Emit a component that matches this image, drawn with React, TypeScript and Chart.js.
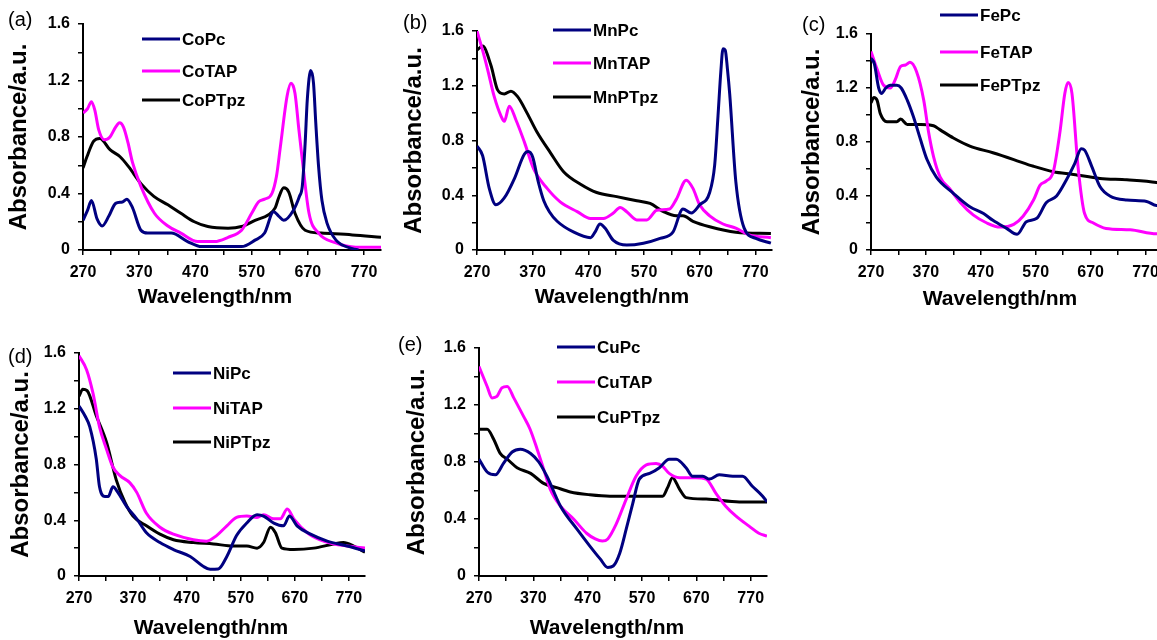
import React, { useEffect, useRef } from "react";
import { Chart, registerables } from "chart.js";

Chart.register(...registerables);

// ---------------- axes ----------------
const X_MIN = 270;
const X_MAX = 800;
const Y_MIN = 0;
const Y_MAX = 1.6;
const X_TICKS = [270, 320, 370, 420, 470, 520, 570, 620, 670, 720, 770];
const X_TICK_LABELS = ["270", "", "370", "", "470", "", "570", "", "670", "", "770"];
const Y_TICKS = [0, 0.2, 0.4, 0.6, 0.8, 1.0, 1.2, 1.4, 1.6];
const Y_TICK_LABELS = ["0", "", "0.4", "", "0.8", "", "1.2", "", "1.6"];
const X_TITLE = "Wavelength/nm";
const Y_TITLE = "Absorbance/a.u.";
const SERIES_COLORS = ["#000080", "#FF00FF", "#000000"];

// ---------------- (a) Co ----------------
const CoPc_wl = [270, 278, 285, 295, 304, 316, 328, 340, 348, 358, 373, 385, 427, 456, 481, 552, 576, 593, 609, 618, 627, 644, 655, 660, 665, 669, 675, 680, 684, 689, 695, 704, 720, 749, 760];
const CoPc_abs = [0.21, 0.28, 0.35, 0.22, 0.17, 0.24, 0.33, 0.34, 0.36, 0.3, 0.14, 0.12, 0.12, 0.06, 0.024, 0.024, 0.07, 0.12, 0.27, 0.24, 0.21, 0.28, 0.38, 0.45, 0.75, 1.07, 1.27, 1.18, 0.9, 0.59, 0.35, 0.19, 0.07, 0.01, 0.0];
const CoTAP_wl = [270, 278, 285, 291, 298, 308, 318, 328, 335, 342, 350, 358, 373, 397, 421, 444, 474, 504, 528, 552, 570, 582, 593, 606, 614, 621, 633, 640, 647, 654, 660, 672, 689, 720, 755, 800];
const CoTAP_abs = [0.97, 1.0, 1.05, 0.99, 0.85, 0.78, 0.8, 0.87, 0.9, 0.87, 0.76, 0.62, 0.45, 0.26, 0.17, 0.12, 0.06, 0.06, 0.09, 0.14, 0.26, 0.34, 0.36, 0.4, 0.52, 0.73, 1.09, 1.18, 1.11, 0.85, 0.64, 0.26, 0.12, 0.05, 0.02, 0.02];
const CoPTpz_wl = [270, 277, 289, 300, 318, 336, 351, 373, 396, 421, 444, 468, 492, 528, 552, 576, 600, 612, 618, 627, 636, 647, 665, 694, 749, 800];
const CoPTpz_abs = [0.58, 0.66, 0.77, 0.79, 0.71, 0.66, 0.59, 0.47, 0.38, 0.32, 0.26, 0.2, 0.166, 0.154, 0.166, 0.21, 0.25, 0.3, 0.37, 0.44, 0.41, 0.26, 0.14, 0.12, 0.107, 0.09];

// ---------------- (b) Mn ----------------
const MnPc_wl = [270, 280, 292, 304, 319, 337, 355, 362, 370, 380, 390, 400, 414, 444, 474, 482, 491, 500, 515, 539, 569, 599, 622, 640, 655, 670, 688, 697, 703, 708, 712, 716, 720, 724, 735, 750, 771, 798];
const MnPc_abs = [0.76, 0.69, 0.45, 0.33, 0.38, 0.52, 0.7, 0.72, 0.68, 0.5, 0.36, 0.28, 0.21, 0.13, 0.09, 0.13, 0.19, 0.16, 0.07, 0.036, 0.05, 0.085, 0.13, 0.3, 0.27, 0.33, 0.42, 0.62, 0.98, 1.3, 1.47, 1.46, 1.32, 1.14, 0.5, 0.16, 0.085, 0.05];
const MnTAP_wl = [270, 280, 289, 301, 313, 319, 328, 340, 355, 372, 396, 420, 450, 474, 497, 515, 527, 539, 557, 575, 593, 616, 628, 646, 658, 670, 688, 712, 735, 759, 798];
const MnTAP_abs = [1.6, 1.46, 1.32, 1.12, 0.98, 0.94, 1.05, 0.95, 0.79, 0.59, 0.45, 0.35, 0.28, 0.23, 0.23, 0.27, 0.31, 0.28, 0.22, 0.22, 0.29, 0.3, 0.37, 0.51, 0.45, 0.33, 0.25, 0.19, 0.16, 0.11, 0.09];
const MnPTpz_wl = [270, 280, 295, 307, 319, 331, 343, 360, 378, 402, 426, 456, 485, 521, 557, 581, 605, 628, 640, 658, 688, 735, 798];
const MnPTpz_abs = [1.46, 1.49, 1.35, 1.17, 1.14, 1.16, 1.12, 1.0, 0.86, 0.71, 0.57, 0.48, 0.42, 0.39, 0.36, 0.34, 0.28, 0.25, 0.25, 0.21, 0.17, 0.13, 0.12];

// ---------------- (c) Fe ----------------
const FePc_wl = [270, 276, 284, 289, 297, 305, 317, 325, 336, 347, 360, 372, 389, 420, 450, 475, 492, 517, 536, 553, 572, 589, 608, 626, 641, 653, 659, 672, 687, 705, 736, 772, 790, 800];
const FePc_abs = [1.42, 1.38, 1.2, 1.16, 1.2, 1.22, 1.22, 1.2, 1.11, 0.99, 0.82, 0.67, 0.54, 0.42, 0.32, 0.27, 0.22, 0.16, 0.116, 0.21, 0.235, 0.35, 0.4, 0.52, 0.64, 0.75, 0.74, 0.62, 0.47, 0.4, 0.37, 0.36, 0.33, 0.33];
const FeTAP_wl = [270, 281, 293, 305, 314, 324, 333, 341, 353, 366, 375, 384, 396, 414, 433, 456, 481, 505, 530, 547, 566, 578, 589, 602, 614, 623, 629, 636, 647, 659, 675, 698, 742, 790, 800];
const FeTAP_abs = [1.47, 1.34, 1.22, 1.2, 1.26, 1.36, 1.37, 1.39, 1.32, 1.11, 0.87, 0.69, 0.54, 0.45, 0.35, 0.26, 0.2, 0.17, 0.19, 0.25, 0.37, 0.48, 0.51, 0.58, 0.87, 1.16, 1.24, 1.16, 0.62, 0.27, 0.2, 0.16, 0.15, 0.12, 0.12];
const FePTpz_wl = [270, 275, 281, 287, 299, 317, 324, 336, 360, 384, 396, 420, 450, 492, 530, 566, 602, 639, 687, 736, 790, 800];
const FePTpz_abs = [1.09, 1.13, 1.11, 1.01, 0.95, 0.95, 0.97, 0.93, 0.93, 0.92, 0.89, 0.83, 0.77, 0.72, 0.67, 0.62, 0.58, 0.56, 0.53, 0.52, 0.5, 0.49];

// ---------------- (d) Ni ----------------
const NiPc_wl = [270, 281, 290, 302, 308, 318, 324, 333, 342, 358, 377, 395, 420, 445, 476, 500, 513, 528, 544, 562, 581, 600, 612, 631, 649, 660, 674, 699, 730, 767, 800];
const NiPc_abs = [1.22, 1.15, 1.07, 0.84, 0.64, 0.57, 0.57, 0.64, 0.6, 0.5, 0.41, 0.31, 0.24, 0.19, 0.14, 0.07, 0.048, 0.05, 0.14, 0.29, 0.38, 0.44, 0.43, 0.38, 0.36, 0.43, 0.36, 0.3, 0.25, 0.215, 0.18];
const NiTAP_wl = [270, 284, 296, 308, 321, 333, 346, 364, 377, 395, 420, 445, 482, 506, 525, 544, 562, 581, 600, 612, 631, 643, 656, 668, 693, 717, 742, 767, 800];
const NiTAP_abs = [1.58, 1.48, 1.31, 1.07, 0.91, 0.78, 0.72, 0.67, 0.6, 0.45, 0.35, 0.3, 0.26, 0.25, 0.29, 0.36, 0.42, 0.43, 0.42, 0.44, 0.41, 0.41, 0.48, 0.41, 0.31, 0.26, 0.23, 0.215, 0.2];
const NiPTpz_wl = [270, 277, 285, 302, 321, 339, 355, 370, 395, 420, 445, 482, 519, 556, 581, 600, 612, 625, 634, 646, 668, 705, 742, 760, 779, 800];
const NiPTpz_abs = [1.29, 1.34, 1.33, 1.15, 0.96, 0.69, 0.53, 0.43, 0.36, 0.3, 0.26, 0.24, 0.23, 0.215, 0.215, 0.2, 0.24, 0.35, 0.31, 0.2, 0.19, 0.2, 0.23, 0.24, 0.215, 0.17];

// ---------------- (e) Cu ----------------
const CuPc_wl = [270, 285, 300, 315, 331, 346, 365, 380, 395, 420, 450, 474, 493, 507, 517, 529, 541, 553, 565, 584, 602, 620, 633, 651, 663, 682, 694, 712, 737, 755, 773, 792, 800];
const CuPc_abs = [0.82, 0.73, 0.71, 0.79, 0.87, 0.89, 0.86, 0.8, 0.7, 0.49, 0.33, 0.21, 0.12, 0.06, 0.07, 0.16, 0.33, 0.51, 0.68, 0.72, 0.76, 0.82, 0.82, 0.76, 0.7, 0.7, 0.68, 0.71, 0.7, 0.7, 0.63, 0.56, 0.52];
const CuTAP_wl = [270, 285, 294, 303, 312, 322, 334, 352, 364, 377, 389, 401, 420, 444, 468, 484, 497, 507, 522, 541, 559, 578, 596, 608, 620, 639, 669, 688, 706, 724, 743, 767, 785, 800];
const CuTAP_abs = [1.47, 1.33, 1.25, 1.26, 1.32, 1.33, 1.25, 1.12, 1.03, 0.89, 0.75, 0.61, 0.49, 0.4, 0.3, 0.26, 0.245, 0.26, 0.36, 0.54, 0.7, 0.78, 0.79, 0.77, 0.72, 0.69, 0.69, 0.68, 0.58, 0.49, 0.42, 0.35, 0.3, 0.28];
const CuPTpz_wl = [270, 285, 297, 309, 322, 340, 365, 389, 413, 438, 474, 511, 559, 608, 617, 626, 639, 651, 688, 749, 800];
const CuPTpz_abs = [1.03, 1.03, 0.96, 0.86, 0.82, 0.76, 0.72, 0.65, 0.62, 0.59, 0.57, 0.56, 0.56, 0.56, 0.62, 0.69, 0.61, 0.55, 0.54, 0.52, 0.52];

// ---------------- panel definitions ----------------
type Panel = {
  letter: string;
  names: string[];
  wl: number[][];
  abs: number[][];
  box: { left: number; top: number; width: number; height: number };
  yAxisW: number;
  xAxisH: number;
  padTop: number;
  padRight: number;
  legendX: number;
  legendY: number[];
  letterX: number;
  letterY: number;
  xTitleX: number;
  xTitleY: number;
};

const PANELS: Panel[] = [
  {
    letter: "(a)", names: ["CoPc", "CoTAP", "CoPTpz"],
    wl: [CoPc_wl, CoTAP_wl, CoPTpz_wl], abs: [CoPc_abs, CoTAP_abs, CoPTpz_abs],
    box: { left: 0, top: 0, width: 391, height: 310 }, yAxisW: 83, xAxisH: 60, padTop: 24, padRight: 10,
    legendX: 142, legendY: [39, 71, 100], letterX: 8, letterY: 20, xTitleX: 215, xTitleY: 297,
  },
  {
    letter: "(b)", names: ["MnPc", "MnTAP", "MnPTpz"],
    wl: [MnPc_wl, MnTAP_wl, MnPTpz_wl], abs: [MnPc_abs, MnTAP_abs, MnPTpz_abs],
    box: { left: 395, top: 0, width: 387, height: 310 }, yAxisW: 82, xAxisH: 60, padTop: 31, padRight: 10,
    legendX: 553, legendY: [30, 63, 97], letterX: 403, letterY: 23, xTitleX: 612, xTitleY: 297,
  },
  {
    letter: "(c)", names: ["FePc", "FeTAP", "FePTpz"],
    wl: [FePc_wl, FeTAP_wl, FePTpz_wl], abs: [FePc_abs, FeTAP_abs, FePTpz_abs],
    box: { left: 793, top: 0, width: 379, height: 310 }, yAxisW: 78, xAxisH: 60, padTop: 34, padRight: 10,
    legendX: 940, legendY: [15, 52, 85], letterX: 802, letterY: 25, xTitleX: 1000, xTitleY: 299,
  },
  {
    letter: "(d)", names: ["NiPc", "NiTAP", "NiPTpz"],
    wl: [NiPc_wl, NiTAP_wl, NiPTpz_wl], abs: [NiPc_abs, NiTAP_abs, NiPTpz_abs],
    box: { left: 2, top: 325, width: 373, height: 315 }, yAxisW: 77, xAxisH: 64, padTop: 28, padRight: 10,
    legendX: 173, legendY: [373, 408, 442], letterX: 8, letterY: 357, xTitleX: 211, xTitleY: 628,
  },
  {
    letter: "(e)", names: ["CuPc", "CuTAP", "CuPTpz"],
    wl: [CuPc_wl, CuTAP_wl, CuPTpz_wl], abs: [CuPc_abs, CuTAP_abs, CuPTpz_abs],
    box: { left: 398, top: 325, width: 379, height: 315 }, yAxisW: 81, xAxisH: 64, padTop: 23, padRight: 10,
    legendX: 557, legendY: [347, 382, 417], letterX: 398, letterY: 345, xTitleX: 607, xTitleY: 628,
  },
];

const FONT = '"Liberation Sans", Arial, Helvetica, sans-serif';

function PanelChart({ cfg }: { cfg: Panel }) {
  const ref = useRef<HTMLCanvasElement>(null);
  useEffect(() => {
    const ox = cfg.box.left;
    const oy = cfg.box.top;
    const overlay = {
      id: "overlay",
      afterDraw(chart: any) {
        const ctx = chart.ctx as CanvasRenderingContext2D;
        ctx.save();
        ctx.fillStyle = "#000";
        ctx.textBaseline = "middle";
        ctx.textAlign = "left";
        ctx.font = `20px ${FONT}`;
        ctx.fillText(cfg.letter, cfg.letterX - ox, cfg.letterY - oy);
        chart.data.datasets.forEach((ds: any, i: number) => {
          const y = cfg.legendY[i] - oy;
          const x = cfg.legendX - ox;
          ctx.strokeStyle = ds.borderColor;
          ctx.lineWidth = 3;
          ctx.beginPath();
          ctx.moveTo(x, y);
          ctx.lineTo(x + 38, y);
          ctx.stroke();
          ctx.fillStyle = "#000";
          ctx.font = `bold 17px ${FONT}`;
          ctx.fillText(ds.label, x + 40, y + 1);
        });
        ctx.textAlign = "center";
        ctx.font = `bold 21px ${FONT}`;
        ctx.fillText(X_TITLE, cfg.xTitleX - ox, cfg.xTitleY - oy);
        ctx.restore();
      },
    };
    const chart = new Chart(ref.current as HTMLCanvasElement, {
      type: "line",
      data: {
        datasets: cfg.names.map((name, i) => ({
          label: name,
          data: cfg.wl[i].map((x, j) => ({ x, y: cfg.abs[i][j] })),
          borderColor: SERIES_COLORS[i],
          backgroundColor: SERIES_COLORS[i],
          borderWidth: 3,
          pointRadius: 0,
          fill: false,
          cubicInterpolationMode: "monotone" as const,
          borderJoinStyle: "round" as const,
        })),
      },
      options: {
        responsive: false,
        animation: false,
        layout: { padding: { top: cfg.padTop, right: cfg.padRight, left: 0, bottom: 0 } },
        plugins: {
          legend: { display: false },
          tooltip: { enabled: false },
          title: { display: false },
        },
        scales: {
          x: {
            type: "linear",
            min: X_MIN,
            max: X_MAX,
            afterBuildTicks: (s: any) => {
              s.ticks = X_TICKS.map((v) => ({ value: v }));
            },
            afterFit: (s: any) => {
              s.height = cfg.xAxisH;
            },
            ticks: {
              autoSkip: false,
              maxRotation: 0,
              minRotation: 0,
              padding: 8,
              color: "#000",
              font: { family: FONT, size: 16, weight: "bold" },
              callback: (_v: any, i: number) => X_TICK_LABELS[i],
            },
            grid: { display: true, drawOnChartArea: false, drawTicks: true, tickLength: 5, color: "#000", lineWidth: 1.5 },
            border: { display: true, color: "#000", width: 2 },
            title: { display: false, text: X_TITLE },
          },
          y: {
            type: "linear",
            min: Y_MIN,
            max: Y_MAX,
            afterBuildTicks: (s: any) => {
              s.ticks = Y_TICKS.map((v) => ({ value: v }));
            },
            afterFit: (s: any) => {
              s.width = cfg.yAxisW;
            },
            ticks: {
              autoSkip: false,
              padding: 8,
              color: "#000",
              font: { family: FONT, size: 16, weight: "bold" },
              callback: (_v: any, i: number) => Y_TICK_LABELS[i],
            },
            grid: { display: true, drawOnChartArea: false, drawTicks: true, tickLength: 5, color: "#000", lineWidth: 1.5 },
            border: { display: true, color: "#000", width: 2 },
            title: {
              display: true,
              text: Y_TITLE,
              color: "#000",
              font: { family: FONT, size: 24, weight: "bold" },
              padding: { top: 5, bottom: 0 },
            },
          },
        },
      },
      plugins: [overlay],
    } as any);
    return () => chart.destroy();
  }, [cfg]);
  const { left, top, width, height } = cfg.box;
  return (
    <div style={{ position: "absolute", left, top, width, height }}>
      <canvas ref={ref} width={width} height={height} style={{ width, height, display: "block" }} />
    </div>
  );
}

export default function App() {
  return (
    <div
      style={{
        position: "fixed",
        left: 0,
        top: 0,
        width: 1157,
        height: 640,
        overflow: "hidden",
        background: "#fff",
      }}
    >
      {PANELS.map((p) => (
        <PanelChart key={p.letter} cfg={p} />
      ))}
    </div>
  );
}
